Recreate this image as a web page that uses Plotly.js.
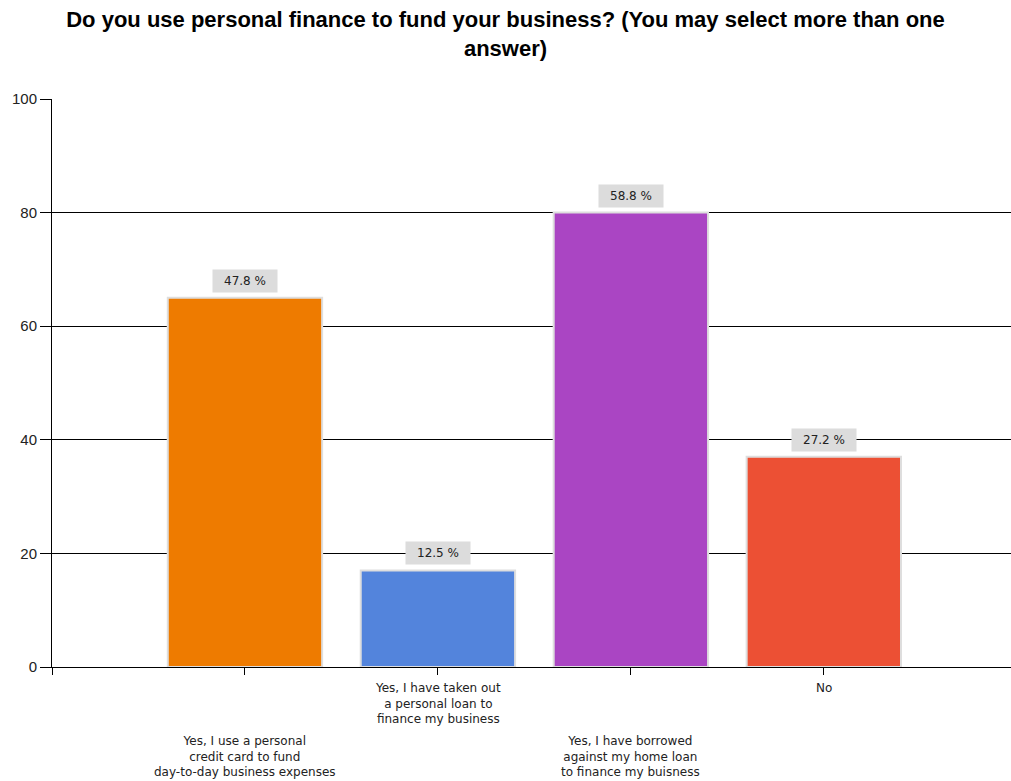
<!DOCTYPE html>
<html>
<head>
<meta charset="utf-8">
<script src="https://cdn.plot.ly/plotly-3.0.1.min.js"></script>
<style>html,body{margin:0;padding:0;background:#fff;}#chart{width:1011px;height:781px;}</style>
</head>
<body>
<div id="chart"></div>
<script>
// Data
const categories = [
  "Yes, I use a personal<br>credit card to fund<br>day-to-day business expenses",
  "Yes, I have taken out<br>a personal loan to<br>finance my business",
  "Yes, I have borrowed<br>against my home loan<br>to finance my buisness",
  "No"
];
const counts = [65, 17, 80, 37];
const percentLabels = ["47.8 %", "12.5 %", "58.8 %", "27.2 %"];
const barColors = ["#ee7b00", "#5384dc", "#aa45c3", "#ec5034"];
const yTicks = [0, 20, 40, 60, 80, 100];
const chartTitle = "Do you use personal finance to fund your business? (You may select more than one<br>answer)";

const xPos = categories.map((c, i) => i);

const trace = {
  type: "bar",
  x: xPos,
  y: counts,
  width: 0.8,
  marker: { color: barColors, line: { color: "#dedede", width: 2 } },
  hoverinfo: "skip"
};

const annotations = [];
counts.forEach((v, i) => {
  annotations.push({
    x: xPos[i], y: v, xref: "x", yref: "y",
    text: percentLabels[i], showarrow: false,
    yanchor: "bottom", yshift: 5,
    bgcolor: "#dcdcdc", width: 62, height: 20, borderpad: 1,
    font: { family: "DejaVu Sans, sans-serif", size: 12, color: "#222" }
  });
  const staggered = (i % 2 === 0);
  annotations.push({
    x: xPos[i], y: staggered ? -0.1145 : -0.021, xref: "x", yref: "paper",
    text: categories[i], showarrow: false, yanchor: "top", align: "center",
    font: { family: "DejaVu Sans, sans-serif", size: 12, color: "#222" }
  });
});

const layout = {
  width: 1011, height: 781,
  margin: { l: 52, r: 0, t: 99, b: 114, pad: 0 },
  paper_bgcolor: "#ffffff", plot_bgcolor: "#ffffff",
  showlegend: false,
  title: {
    text: chartTitle, x: 0.5, xanchor: "center",
    yref: "container", y: 1 - 27 / 781, yanchor: "middle",
    font: { family: "Liberation Sans, Arial, sans-serif", size: 22, color: "#000", weight: "bold" }
  },
  xaxis: {
    range: [-1, 3.97], tickvals: [-1].concat(xPos), ticktext: ["", "", "", "", ""],
    showgrid: false, zeroline: false, showline: true, linecolor: "#000", linewidth: 1,
    ticks: "outside", ticklen: 7, tickcolor: "#000", tickwidth: 1, fixedrange: true
  },
  yaxis: {
    range: [0, 100], tickvals: yTicks, ticktext: yTicks.map(String),
    showgrid: true, gridcolor: "#000", gridwidth: 1, zeroline: false,
    showline: true, linecolor: "#000", linewidth: 1,
    ticks: "outside", ticklen: 11, tickcolor: "#000", tickwidth: 1,
    tickfont: { family: "Liberation Sans, Arial, sans-serif", size: 15, color: "#222" },
    fixedrange: true
  },
  annotations: annotations
};

Plotly.newPlot("chart", [trace], layout, { displayModeBar: false, staticPlot: true });
</script>
</body>
</html>
